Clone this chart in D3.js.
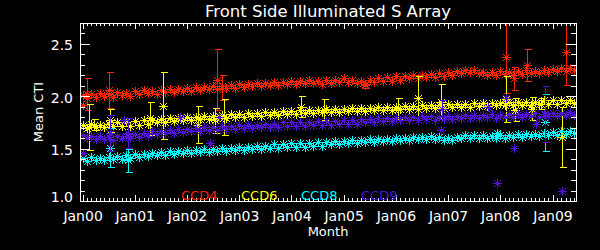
<!DOCTYPE html>
<html>
<head>
<meta charset="utf-8">
<script src="https://cdn.jsdelivr.net/npm/d3@7"></script>
<style>
  html, body { margin: 0; padding: 0; background: #000; }
  svg { display: block; }
  text { font-family: "DejaVu Sans", sans-serif; fill: #fff; }
</style>
</head>
<body>
<div id="chart"></div>
<script>
// monthly mean CTI, one value per month starting Jan 2000
const ccd4 = [
    2.01, 1.98, 2.02, 1.99, 2.03, 2.00, 2.02, 1.99, 2.04, 2.01,
    2.03, 2.00, 2.05, 2.02, 2.06, 2.03, 2.05, 2.02, 2.06, 2.04,
    2.07, 2.04, 2.07, 2.05, 2.08, 2.05, 2.09, 2.06, 2.09, 2.07,
    2.10, 2.07, 2.10, 2.08, 2.11, 2.08, 2.12, 2.09, 2.12, 2.10,
    2.13, 2.10, 2.13, 2.11, 2.14, 2.11, 2.14, 2.12, 2.15, 2.12,
    2.15, 2.13, 2.16, 2.13, 2.15, 2.12, 2.16, 2.13, 2.16, 2.14,
    2.17, 2.14, 2.16, 2.13, 2.15, 2.12, 2.16, 2.14, 2.17, 2.15,
    2.18, 2.15, 2.19, 2.16, 2.19, 2.17, 2.20, 2.17, 2.20, 2.18,
    2.21, 2.18, 2.22, 2.19, 2.23, 2.20, 2.24, 2.22, 2.25, 2.23,
    2.25, 2.22, 2.23, 2.20, 2.23, 2.20, 2.24, 2.21, 2.23, 2.20,
    2.24, 2.21, 2.25, 2.22, 2.24, 2.22, 2.25, 2.23, 2.26, 2.24,
    2.27, 2.24, 2.27, 2.25
];
const ccd6 = [
    1.73, 1.70, 1.74, 1.71, 1.73, 1.71, 1.74, 1.72, 1.75, 1.72,
    1.75, 1.72, 1.76, 1.73, 1.77, 1.74, 1.77, 1.75, 1.78, 1.75,
    1.79, 1.76, 1.79, 1.77, 1.80, 1.77, 1.80, 1.78, 1.81, 1.78,
    1.81, 1.79, 1.82, 1.79, 1.83, 1.80, 1.83, 1.80, 1.84, 1.81,
    1.84, 1.81, 1.85, 1.82, 1.85, 1.82, 1.86, 1.83, 1.86, 1.83,
    1.87, 1.84, 1.87, 1.84, 1.87, 1.85, 1.88, 1.85, 1.88, 1.85,
    1.88, 1.86, 1.89, 1.86, 1.89, 1.86, 1.89, 1.87, 1.90, 1.87,
    1.90, 1.87, 1.90, 1.88, 1.91, 1.88, 1.91, 1.88, 1.92, 1.89,
    1.92, 1.89, 1.92, 1.89, 1.93, 1.90, 1.93, 1.90, 1.93, 1.90,
    1.94, 1.91, 1.94, 1.91, 1.94, 1.92, 1.94, 1.92, 1.95, 1.92,
    1.95, 1.92, 1.95, 1.92, 1.95, 1.93, 1.96, 1.93, 1.96, 1.93,
    1.96, 1.94, 1.96, 1.94
];
const ccd8 = [
    1.41, 1.38, 1.42, 1.39, 1.41, 1.39, 1.42, 1.40, 1.43, 1.40,
    1.44, 1.41, 1.45, 1.42, 1.45, 1.43, 1.46, 1.44, 1.47, 1.44,
    1.48, 1.45, 1.48, 1.46, 1.49, 1.46, 1.49, 1.47, 1.50, 1.47,
    1.50, 1.48, 1.51, 1.48, 1.51, 1.49, 1.52, 1.49, 1.52, 1.50,
    1.53, 1.50, 1.53, 1.51, 1.54, 1.51, 1.54, 1.52, 1.55, 1.52,
    1.55, 1.52, 1.55, 1.53, 1.56, 1.53, 1.56, 1.54, 1.57, 1.54,
    1.57, 1.55, 1.58, 1.55, 1.58, 1.56, 1.59, 1.56, 1.59, 1.57,
    1.59, 1.57, 1.60, 1.58, 1.60, 1.58, 1.61, 1.59, 1.61, 1.59,
    1.62, 1.59, 1.61, 1.58, 1.60, 1.58, 1.61, 1.60, 1.63, 1.60,
    1.63, 1.60, 1.63, 1.60, 1.62, 1.60, 1.63, 1.60, 1.63, 1.61,
    1.64, 1.61, 1.64, 1.62, 1.64, 1.62, 1.65, 1.63, 1.66, 1.63,
    1.67, 1.64, 1.67, 1.65
];
const ccd9 = [
    1.63, 1.60, 1.62, 1.59, 1.62, 1.59, 1.61, 1.58, 1.62, 1.60,
    1.62, 1.60, 1.64, 1.61, 1.65, 1.62, 1.67, 1.64, 1.67, 1.65,
    1.68, 1.65, 1.69, 1.66, 1.69, 1.67, 1.70, 1.67, 1.71, 1.68,
    1.71, 1.68, 1.72, 1.69, 1.72, 1.69, 1.73, 1.70, 1.73, 1.70,
    1.73, 1.71, 1.74, 1.71, 1.74, 1.71, 1.75, 1.72, 1.75, 1.72,
    1.75, 1.72, 1.75, 1.73, 1.76, 1.73, 1.76, 1.73, 1.76, 1.74,
    1.77, 1.74, 1.77, 1.74, 1.78, 1.75, 1.78, 1.75, 1.79, 1.76,
    1.79, 1.76, 1.79, 1.77, 1.80, 1.77, 1.80, 1.77, 1.81, 1.78,
    1.81, 1.77, 1.80, 1.78, 1.81, 1.78, 1.81, 1.79, 1.82, 1.79,
    1.82, 1.79, 1.82, 1.80, 1.83, 1.79, 1.82, 1.80, 1.83, 1.80,
    1.83, 1.80, 1.83, 1.81, 1.84, 1.80, 1.83, 1.81, 1.84, 1.81,
    1.84, 1.82, 1.85, 1.82
];

// odd months: [month index, mean, error]
const ccd4Odd = [
    [0, 1.92, 0], [1, 2.02, 0.15], [6, 2.06, 0.17], [31, 2.16, 0.29],
    [32, 2.08, 0.12], [65, 2.11, 0.03], [97.4, 2.38, 0.35], [99.2, 2.17, 0.11],
    [102.2, 2.30, 0.15], [111.2, 2.42, 0.31]
];
const ccd6Odd = [
    [1.5, 1.71, 0.22], [2.6, 1.73, 0.05], [6.3, 1.77, 0.11], [15.5, 1.79, 0.16],
    [18.4, 1.91, 0.32], [26.5, 1.73, 0.18], [30.4, 1.77, 0.12], [32.4, 1.80, 0.17],
    [50.3, 1.90, 0.10], [55.4, 1.87, 0.10], [72.4, 1.88, 0.10], [77.2, 1.98, 0.21],
    [82.4, 1.95, 0.17], [97.4, 1.97, 0.22], [99.4, 1.87, 0.11], [103.3, 1.88, 0.11],
    [105.4, 1.93, 0.05], [110.2, 1.61, 0.29]
];
const ccd8Odd = [
    [6.3, 1.51, 0.19], [10.4, 1.39, 0.11], [95.3, 1.65, 0], [106.3, 1.75, 0.27]
];
const ccd9Odd = [
    [0.1, 1.46, 0], [6.3, 1.65, 0.17], [9.5, 1.77, 0], [10.4, 1.65, 0.14],
    [22.3, 1.80, 0], [29.3, 1.55, 0], [31.3, 1.80, 0], [82.4, 1.68, 0],
    [82.6, 1.88, 0.08], [93.2, 1.90, 0], [95.3, 1.17, 0], [97.4, 1.98, 0],
    [99.2, 1.51, 0], [104.3, 1.74, 0], [106.3, 1.83, 0.27], [110.2, 1.10, 0]
];

const seriesNames = ['CCD4', 'CCD6', 'CCD8', 'CCD9'];
const yMajorTicks = [1.0, 1.5, 2.0, 2.5];
const xYearMonths = [0, 12, 24, 36, 48, 60, 72, 84, 96, 108];
const xYearLabels = ['Jan00', 'Jan01', 'Jan02', 'Jan03', 'Jan04', 'Jan05', 'Jan06', 'Jan07', 'Jan08', 'Jan09'];

const seriesColors = ['#ff2400', '#ffff00', '#00ffff', '#5014d2'];
const STAR = 'M-4.5,0H4.5M0,-4.5V4.5M-3.5,-3.5L3.5,3.5M-3.5,3.5L3.5,-3.5';

class CtiPlot {
    constructor(element, d3, svgWidth, svgHeight) {
        this.element = element;
        this.d3 = d3;
        this.svgWidth = svgWidth;
        this.svgHeight = svgHeight;
        this.left = 80;
        this.right = 576;
        this.top = 23;
        this.bottom = 201;
        this.svg = null;
    }

    init() {
        this.svg = this.d3.select(this.element)
            .append('svg')
            .attr('width', this.svgWidth)
            .attr('height', this.svgHeight)
            .style('background', '#000');

        this.x = this.d3.scaleLinear().domain([-0.6, 113.4]).range([this.left, this.right]);
        this.y = this.d3.scaleLinear().domain([1.0, 2.7]).range([this.bottom, this.top]);

        this.svg.append('clipPath').attr('id', 'plot-clip')
            .append('rect')
            .attr('x', this.left).attr('y', this.top)
            .attr('width', this.right - this.left)
            .attr('height', this.bottom - this.top);

        this.drawSeries();
        this.drawAxes();
        this.drawText();
    }

    drawAxes() {
        let d3 = this.d3;
        let self = this;
        let minorY = d3.range(10, 28).map((d) => d / 10).filter((d) => yMajorTicks.indexOf(d) < 0);
        let minorX = d3.range(0, 114).filter((d) => d % 12 !== 0);

        let axes = this.svg.append('g').attr('class', 'axes');

        let put = function(axis, tx, ty) {
            let g = axes.append('g')
                .attr('transform', `translate(${tx},${ty})`)
                .call(axis);
            g.select('.domain').remove();
            g.selectAll('line').attr('stroke', '#fff').attr('shape-rendering', 'crispEdges');
            return g;
        };

        // left
        let yl = put(d3.axisLeft(this.y).tickValues(yMajorTicks).tickSize(-10).tickSizeOuter(0)
            .tickPadding(7).tickFormat(d3.format('.1f')), this.left, 0);
        yl.selectAll('text')
            .attr('fill', '#fff')
            .attr('font-size', 14)
            .attr('font-family', '"DejaVu Sans", sans-serif')
            .attr('dy', null)
            .attr('y', function(d) {
                return Math.min(6, self.bottom - self.y(d));
            });
        put(d3.axisLeft(this.y).tickValues(minorY).tickSize(-5).tickSizeOuter(0).tickFormat(''), this.left, 0);

        // right
        put(d3.axisRight(this.y).tickValues(yMajorTicks).tickSize(-10).tickSizeOuter(0).tickFormat(''), this.right, 0);
        put(d3.axisRight(this.y).tickValues(minorY).tickSize(-5).tickSizeOuter(0).tickFormat(''), this.right, 0);

        // bottom
        let xb = put(d3.axisBottom(this.x).tickValues(xYearMonths).tickSize(-6).tickSizeOuter(0)
            .tickPadding(10).tickFormat((d, i) => xYearLabels[i]), 0, this.bottom);
        xb.selectAll('text')
            .attr('fill', '#fff')
            .attr('font-size', 14)
            .attr('font-family', '"DejaVu Sans", sans-serif');
        put(d3.axisBottom(this.x).tickValues(minorX).tickSize(-3).tickSizeOuter(0).tickFormat(''), 0, this.bottom);

        // top
        put(d3.axisTop(this.x).tickValues(xYearMonths).tickSize(-6).tickSizeOuter(0).tickFormat(''), 0, this.top);
        put(d3.axisTop(this.x).tickValues(minorX).tickSize(-3).tickSizeOuter(0).tickFormat(''), 0, this.top);

        axes.append('rect')
            .attr('x', this.left + 0.5)
            .attr('y', this.top + 0.5)
            .attr('width', this.right - this.left)
            .attr('height', this.bottom - this.top)
            .attr('fill', 'none')
            .attr('stroke', '#fff')
            .attr('shape-rendering', 'crispEdges');
    }

    drawSeries() {
        let self = this;
        let bands = [ccd4, ccd6, ccd8, ccd9];
        let odds = [ccd4Odd, ccd6Odd, ccd8Odd, ccd9Odd];
        let plot = this.svg.append('g').attr('clip-path', 'url(#plot-clip)');

        bands.forEach(function(values, s) {
            let color = seriesColors[s];
            let g = plot.append('g')
                .attr('stroke', color)
                .attr('fill', 'none')
                .attr('stroke-width', 1)
                .attr('shape-rendering', 'crispEdges');

            g.selectAll('path.band')
                .data(values)
                .enter()
                .append('path')
                .attr('class', 'band')
                .attr('d', STAR)
                .attr('transform', function(d, i) {
                    return `translate(${Math.round(self.x(i)) + 0.5},${Math.round(self.y(d)) + 0.5})`;
                });

            let bars = odds[s].filter((d) => d[2] > 0);
            let bar = g.selectAll('g.err')
                .data(bars)
                .enter()
                .append('g')
                .attr('class', 'err')
                .attr('transform', function(d) {
                    return `translate(${Math.round(self.x(d[0])) + 0.5},0)`;
                });
            bar.append('line')
                .attr('x1', 0).attr('x2', 0)
                .attr('y1', function(d) { return Math.round(self.y(d[1] + d[2])) + 0.5; })
                .attr('y2', function(d) { return Math.round(self.y(d[1] - d[2])) + 0.5; });
            bar.append('line')
                .attr('x1', -3).attr('x2', 4)
                .attr('y1', function(d) { return Math.round(self.y(d[1] + d[2])) + 0.5; })
                .attr('y2', function(d) { return Math.round(self.y(d[1] + d[2])) + 0.5; });
            bar.append('line')
                .attr('x1', -3).attr('x2', 4)
                .attr('y1', function(d) { return Math.round(self.y(d[1] - d[2])) + 0.5; })
                .attr('y2', function(d) { return Math.round(self.y(d[1] - d[2])) + 0.5; });

            g.selectAll('path.odd')
                .data(odds[s])
                .enter()
                .append('path')
                .attr('class', 'odd')
                .attr('d', STAR)
                .attr('transform', function(d) {
                    return `translate(${Math.round(self.x(d[0])) + 0.5},${Math.round(self.y(d[1])) + 0.5})`;
                });
        });
    }

    drawText() {
        let mid = (this.left + this.right) / 2;

        this.svg.append('text')
            .attr('x', mid)
            .attr('y', 17)
            .attr('text-anchor', 'middle')
            .attr('font-size', 16.5)
            .text('Front Side Illuminated S Array');

        this.svg.append('text')
            .attr('x', mid)
            .attr('y', 236)
            .attr('text-anchor', 'middle')
            .attr('font-size', 13)
            .text('Month');

        this.svg.append('text')
            .attr('transform', `translate(43,${(this.top + this.bottom) / 2}) rotate(-90)`)
            .attr('text-anchor', 'middle')
            .attr('font-size', 13)
            .text('Mean CTI');

        // legend sits inside the plot, along the bottom
        this.svg.append('g')
            .selectAll('text')
            .data(seriesNames)
            .enter()
            .append('text')
            .attr('x', (d, i) => 181 + i * 60)
            .attr('y', 200)
            .attr('font-size', 13)
            .style('fill', (d, i) => seriesColors[i])
            .text((d) => d);
    }
}

const plot = new CtiPlot('#chart', d3, 600, 250);
plot.init();
</script>
</body>
</html>
